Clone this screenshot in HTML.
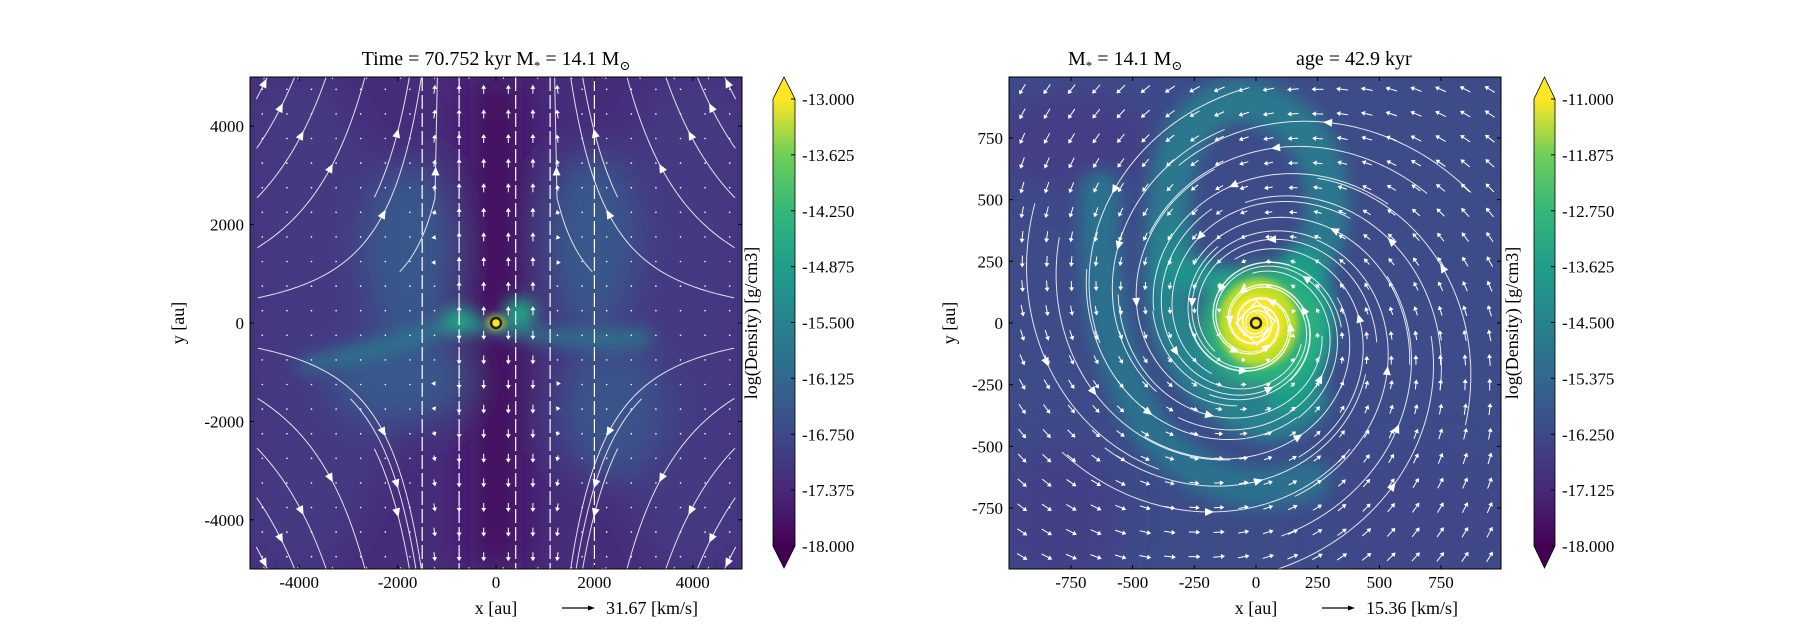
<!DOCTYPE html>
<html><head><meta charset="utf-8"><style>
html,body{margin:0;padding:0;background:#fff;}
svg{display:block;font-family:"Liberation Serif","DejaVu Serif",serif;}
</style></head><body>
<svg id="s" width="1800" height="630" viewBox="0 0 1800 630" xmlns="http://www.w3.org/2000/svg">
<defs>
<linearGradient id="vir" x1="0" y1="1" x2="0" y2="0">
<stop offset="0" stop-color="#440154"/><stop offset="0.125" stop-color="#482878"/><stop offset="0.25" stop-color="#3e4989"/><stop offset="0.375" stop-color="#31688e"/><stop offset="0.5" stop-color="#26828e"/><stop offset="0.625" stop-color="#1f9e89"/><stop offset="0.75" stop-color="#35b779"/><stop offset="0.875" stop-color="#6ece58"/><stop offset="1" stop-color="#fde725"/>
</linearGradient>
<filter id="b1" x="-50%" y="-50%" width="200%" height="200%"><feGaussianBlur stdDeviation="18"/></filter>
<filter id="b2" x="-50%" y="-50%" width="200%" height="200%"><feGaussianBlur stdDeviation="8"/></filter>
<filter id="b3" x="-50%" y="-50%" width="200%" height="200%"><feGaussianBlur stdDeviation="4"/></filter>
<clipPath id="cL"><rect x="250" y="77" width="492" height="492"/></clipPath>
<clipPath id="cR"><rect x="1009" y="77" width="492" height="492"/></clipPath>
</defs>

<!-- LEFT PANEL -->
<g clip-path="url(#cL)">
<rect x="250" y="77" width="492" height="492" fill="#472c7a"/>
<g filter="url(#b1)">
<polygon points="330,77 460,323 330,569 250,569 250,77" fill="#433e85" opacity="0.7"/>
<polygon points="660,77 540,323 660,569 742,569 742,77" fill="#433e85" opacity="0.7"/>
<ellipse cx="410" cy="250" rx="45" ry="90" fill="#38598c"/>
<ellipse cx="590" cy="240" rx="45" ry="90" fill="#38598c"/>
<ellipse cx="400" cy="380" rx="70" ry="45" fill="#38598c"/>
<ellipse cx="610" cy="410" rx="55" ry="70" fill="#3b528b"/>
<rect x="470" y="77" width="52" height="492" fill="#440a5e"/>
</g>
<g filter="url(#b2)">
<path d="M300,360 Q380,345 440,320 L500,322 Q560,335 650,330 L650,345 Q560,350 500,334 L440,335 Q380,362 300,372 Z" fill="#2a788e"/>
<ellipse cx="460" cy="320" rx="18" ry="12" fill="#22a884"/>
<ellipse cx="520" cy="312" rx="16" ry="14" fill="#22a884"/>
</g>
<ellipse cx="496" cy="323" rx="9" ry="7" fill="#b5de2b" filter="url(#b3)"/>
<g id="gL"></g>
<circle cx="496" cy="323" r="5" fill="#fde725" stroke="#222" stroke-width="2.5"/>
</g>
<rect x="250" y="77" width="492" height="492" fill="none" stroke="#000" stroke-width="1"/>
<text x="496" y="65" font-size="20" text-anchor="middle">Time = 70.752 kyr   M<tspan font-size="13" dy="5">*</tspan><tspan dy="-5"> = 14.1 M</tspan><tspan font-size="13" dy="5">⊙</tspan></text>
<g font-size="17" text-anchor="end" id="lyt"></g>
<g font-size="17" text-anchor="middle" id="lxt"></g>
<text x="184" y="323" font-size="18" text-anchor="middle" transform="rotate(-90 184 323)">y [au]</text>
<text x="496" y="614" font-size="18" text-anchor="middle">x [au]</text>
<line x1="562" y1="608" x2="592" y2="608" stroke="#000" stroke-width="1.3"/><polygon points="595,608 588,605.5 588,610.5"/>
<text x="606" y="614" font-size="18">31.67 [km/s]</text>

<rect x="773" y="99" width="22" height="447" fill="url(#vir)"/>
<polygon points="773,99 784,77 795,99" fill="#fde725"/>
<polygon points="773,546 784,568 795,546" fill="#440154"/>
<polygon points="773,99 784,77 795,99 795,546 784,568 773,546" fill="none" stroke="#000" stroke-width="0.8"/>
<g font-size="17" id="cbL"></g>
<text x="757" y="323" font-size="18" text-anchor="middle" transform="rotate(-90 757 323)">log(Density) [g/cm3]</text>

<!-- RIGHT PANEL -->
<g clip-path="url(#cR)">
<rect x="1009" y="77" width="492" height="492" fill="#3d4b89"/>
<g filter="url(#b1)">
<ellipse cx="1070" cy="140" rx="80" ry="50" fill="#453e85"/>
<ellipse cx="1060" cy="520" rx="60" ry="80" fill="#433f86"/>
<ellipse cx="1420" cy="520" rx="90" ry="70" fill="#3f4788"/>
</g>
<g filter="url(#b2)" fill="none" stroke-linecap="round">
<path d="M1170,250 Q1160,110 1240,100 Q1310,110 1325,180 Q1335,240 1300,275" stroke="#2a788e" stroke-width="44"/>
<path d="M1170,240 Q1160,340 1215,390 Q1270,440 1305,400" stroke="#26828e" stroke-width="46"/>
<path d="M1100,190 Q1095,340 1150,430 Q1220,510 1310,480" stroke="#2c718e" stroke-width="40"/>
<path d="M1300,270 Q1325,330 1290,390" stroke="#1f9e89" stroke-width="46"/>
<path d="M1175,270 Q1230,280 1240,300" stroke="#21918c" stroke-width="34"/>
</g>
<g filter="url(#b2)">
<ellipse cx="1262" cy="328" rx="62" ry="62" fill="#2ab07f"/>
</g>
<ellipse cx="1258" cy="323" rx="40" ry="44" fill="#bddf26" filter="url(#b3)"/>
<ellipse cx="1257" cy="323" rx="26" ry="28" fill="#fde725" filter="url(#b3)"/>
<g id="gR"></g>
<polyline points="1236,323 1257,301 1275,321 1257,345 1236,323" fill="none" stroke="#fff" stroke-width="1.5"/>
<circle cx="1256" cy="323" r="5" fill="#fde725" stroke="#222" stroke-width="2.5"/>
</g>
<rect x="1009" y="77" width="492" height="492" fill="none" stroke="#000" stroke-width="1"/>
<text x="1068" y="65" font-size="20">M<tspan font-size="13" dy="5">*</tspan><tspan dy="-5"> = 14.1 M</tspan><tspan font-size="13" dy="5">⊙</tspan></text>
<text x="1296" y="65" font-size="20">age = 42.9 kyr</text>
<g font-size="17" text-anchor="end" id="ryt"></g>
<g font-size="17" text-anchor="middle" id="rxt"></g>
<text x="955" y="323" font-size="18" text-anchor="middle" transform="rotate(-90 955 323)">y [au]</text>
<text x="1256" y="614" font-size="18" text-anchor="middle">x [au]</text>
<line x1="1322" y1="608" x2="1352" y2="608" stroke="#000" stroke-width="1.3"/><polygon points="1355,608 1348,605.5 1348,610.5"/>
<text x="1366" y="614" font-size="18">15.36 [km/s]</text>

<rect x="1534" y="99" width="21" height="447" fill="url(#vir)"/>
<polygon points="1534,99 1544.5,77 1555,99" fill="#fde725"/>
<polygon points="1534,546 1544.5,568 1555,546" fill="#440154"/>
<polygon points="1534,99 1544.5,77 1555,99 1555,546 1544.5,568 1534,546" fill="none" stroke="#000" stroke-width="0.8"/>
<g font-size="17" id="cbR"></g>
<text x="1518" y="323" font-size="18" text-anchor="middle" transform="rotate(-90 1518 323)">log(Density) [g/cm3]</text>
</svg>
<script>
const NS="http://www.w3.org/2000/svg";
function el(p,t,a,txt){const e=document.createElementNS(NS,t);for(const k in a)e.setAttribute(k,a[k]);if(txt!=null)e.textContent=txt;p.appendChild(e);return e;}
const $=id=>document.getElementById(id);
function ticks(gx,gy,x0,x1,y0,y1,cx,cy,scale,vals){
  for(const v of vals){const px=cx+v*scale, py=cy-v*scale;
    el(gx,'text',{x:px,y:588},String(v));
    el(gx.ownerSVGElement,'line',{x1:px,y1:y1,x2:px,y2:y1-4,stroke:'#000'});
    el(gx.ownerSVGElement,'line',{x1:px,y1:y0,x2:px,y2:y0+4,stroke:'#000'});
    el(gy,'text',{x:x0-6,y:py+6},String(v));
    el(gy.ownerSVGElement,'line',{x1:x0,y1:py,x2:x0+4,y2:py,stroke:'#000'});
    el(gy.ownerSVGElement,'line',{x1:x1,y1:py,x2:x1-4,y2:py,stroke:'#000'});
  }
}
ticks($('lxt'),$('lyt'),250,742,77,569,496,323,0.0492,[-4000,-2000,0,2000,4000]);
ticks($('rxt'),$('ryt'),1009,1501,77,569,1256,323,0.2467,[-750,-500,-250,0,250,500,750]);
function cb(g,x,labels){labels.forEach((t,i)=>{const y=99+i*447/8;el(g,'text',{x:x+7,y:y+6},t);el(g.ownerSVGElement,'line',{x1:x-4,y1:y,x2:x,y2:y,stroke:'#000'});});}
cb($('cbL'),795,['-13.000','-13.625','-14.250','-14.875','-15.500','-16.125','-16.750','-17.375','-18.000']);
cb($('cbR'),1555,['-11.000','-11.875','-12.750','-13.625','-14.500','-15.375','-16.250','-17.125','-18.000']);
function fL(x,y){let u=-0.6*x,v=1.2*y; if(Math.abs(x)<0.25){v=(y>0?1:-1)*1.5;u*=0.2;} return [u,v];}
function fR(x,y){const r=Math.hypot(x,y)+0.05;return [(-y-0.25*x)/Math.sqrt(r),(x-0.25*y)/Math.sqrt(r)];}
function stream(g,f,cx,cy,h,seeds,len){
  for(const [sx,sy] of seeds){let pts=[],x=sx,y=sy;
    for(let i=0;i<len;i++){const [u,v]=f(x,y);const m=Math.hypot(u,v)+1e-9;x+=0.012*u/m;y+=0.012*v/m;if(Math.abs(x)>1.05||Math.abs(y)>1.05||Math.hypot(x,y)<0.04)break;pts.push([cx+x*h,cy-y*h]);}
    if(pts.length<4)continue;
    el(g,'polyline',{points:pts.map(p=>p.join(',')).join(' '),fill:'none',stroke:'#fff','stroke-width':1,opacity:0.85});
    const k=Math.floor(pts.length/2),a=pts[k],b=pts[k+1];const ang=Math.atan2(b[1]-a[1],b[0]-a[0])*180/Math.PI;
    el(g,'polygon',{points:'5,0 -4,-4 -4,4',fill:'#fff',transform:`translate(${a[0]},${a[1]}) rotate(${ang})`});
  }
}
function quiver(g,f,cx,cy,h,n,sz){
  for(let i=0;i<n;i++)for(let j=0;j<n;j++){const x=-1+(i+0.5)*2/n,y=-1+(j+0.5)*2/n;const [u,v]=f(x,y);const m=Math.hypot(u,v)+1e-9;
    const ang=Math.atan2(-v,u)*180/Math.PI;const L=Math.min(sz,sz*m);
    if(L<3){el(g,'circle',{cx:cx+x*h,cy:cy-y*h,r:0.8,fill:'#fff'});continue;}
    el(g,'line',{x1:-L/2,y1:0,x2:L/2-2,y2:0,stroke:'#fff','stroke-width':1,transform:`translate(${cx+x*h},${cy-y*h}) rotate(${ang})`});
    el(g,'polygon',{points:`${L/2},0 ${L/2-4},-2.5 ${L/2-4},2.5`,fill:'#fff',transform:`translate(${cx+x*h},${cy-y*h}) rotate(${ang})`});}
}
const gL=$('gL');quiver(gL,(x,y)=>{const [u,v]=fL(x,y);return Math.abs(x)<0.3?[u,v]:[u*0.1,v*0.1];},496,323,246,20,9);
let sL=[];for(let i=0;i<14;i++){sL.push([-0.95+i*0.14,0.98]);sL.push([-0.95+i*0.14,-0.98]);}for(let j=0;j<10;j++){sL.push([-0.98,-0.9+j*0.2]);sL.push([0.98,-0.9+j*0.2]);}
for(const p of [[-0.5,0.5],[0.5,0.5],[-0.5,-0.5],[0.5,-0.5],[-0.6,-0.3],[0.6,-0.3],[-0.4,0.2],[0.4,0.2]])sL.push(p);
stream(gL,fL,496,323,246,sL,160);
for(const x of [-0.3,-0.15,0.08,0.22,0.4])el(gL,'line',{x1:496+x*246,y1:77,x2:496+x*246,y2:569,stroke:'#fff','stroke-width':1.2,'stroke-dasharray':'14,4'});
const gR=$('gR');quiver(gR,fR,1256,323,246,20,12);
let sR=[];for(let i=0;i<12;i++){const r=0.2+i*0.075;for(let k=0;k<3;k++){const a=k*2.1+i;sR.push([r*Math.cos(a),r*Math.sin(a)]);}}
stream(gR,fR,1256,323,246,sR,110);
</script>
</body></html>
